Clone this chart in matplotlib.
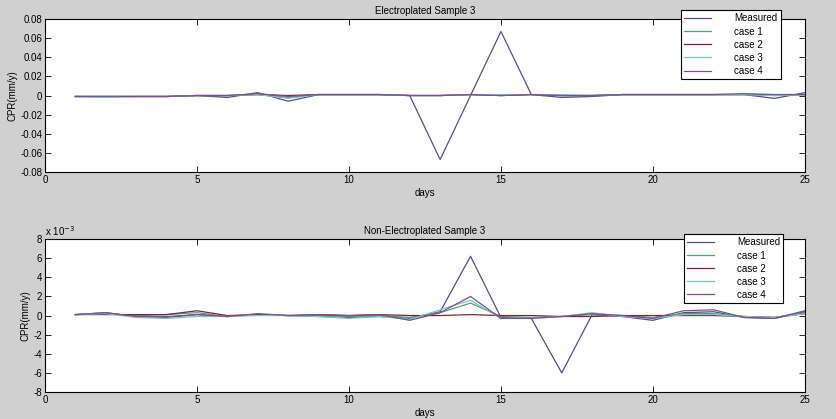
import numpy as np
import matplotlib
matplotlib.use('Agg')
import matplotlib.pyplot as plt

days = np.arange(1, 26)

# Electroplated Sample 3 (mm/y)
ep_measured = [-0.001, -0.001, -0.001, -0.001, 0.0, -0.002, 0.003, -0.006, 0.001, 0.001,
               0.001, 0.0, -0.067, 0.0, 0.067, 0.001, -0.002, -0.001, 0.001, 0.001,
               0.001, 0.001, 0.001, -0.003, 0.003]
ep_case1 = [-0.001, -0.001, -0.001, -0.001, 0.0, 0.0, 0.001, -0.002, 0.001, 0.001,
            0.001, 0.0, 0.0, 0.001, 0.0, 0.001, 0.0, 0.0, 0.001, 0.001,
            0.001, 0.001, 0.001, 0.0, 0.001]
ep_case2 = [-0.001, -0.001, -0.001, -0.001, 0.0, 0.0, 0.001, 0.0, 0.001, 0.001,
            0.001, 0.0, 0.0, 0.001, 0.0, 0.001, 0.0, 0.0, 0.001, 0.001,
            0.001, 0.001, 0.001, 0.001, 0.001]
ep_case3 = [-0.001, -0.002, -0.001, -0.001, 0.0, 0.0, 0.001, -0.003, 0.001, 0.001,
            0.001, 0.0, 0.0, 0.001, 0.001, 0.001, 0.001, 0.0, 0.001, 0.001,
            0.001, 0.001, 0.001, 0.0, 0.001]
ep_case4 = [-0.001, -0.001, -0.001, -0.001, 0.0, 0.0, 0.002, -0.001, 0.001, 0.001,
            0.001, 0.0, 0.0, 0.001, 0.0, 0.001, 0.0, 0.0, 0.001, 0.001,
            0.001, 0.001, 0.002, 0.001, 0.001]

# Non-Electroplated Sample 3 (x 1e-3 mm/y)
nep_measured = [0.1, 0.3, -0.1, -0.2, 0.1, -0.1, 0.1, 0.0, -0.1, -0.2,
                -0.1, -0.3, 0.4, 6.2, -0.2, -0.3, -6.0, 0.1, -0.1, -0.5,
                0.3, 0.4, -0.2, -0.3, 0.4]
nep_case1 = [0.1, 0.2, 0.0, 0.1, 0.3, -0.1, 0.1, 0.0, 0.0, -0.1,
             0.0, -0.2, 0.3, 1.3, -0.1, -0.2, -0.1, 0.1, 0.0, -0.2,
             0.2, 0.2, -0.1, -0.2, 0.3]
nep_case2 = [0.1, 0.1, 0.1, 0.1, 0.5, 0.0, 0.1, 0.0, 0.1, 0.0,
             0.1, 0.0, 0.0, 0.1, 0.0, 0.0, -0.1, -0.1, 0.0, 0.0,
             0.0, 0.0, -0.1, -0.2, 0.2]
nep_case3 = [0.1, 0.2, -0.2, -0.3, -0.1, -0.1, 0.0, 0.0, -0.1, -0.3,
             -0.1, -0.4, 0.6, 1.6, -0.3, -0.3, -0.1, 0.3, -0.1, -0.3,
             0.1, 0.1, -0.1, -0.2, 0.2]
nep_case4 = [0.1, 0.3, -0.1, -0.1, 0.1, -0.1, 0.2, 0.0, 0.1, 0.0,
             0.1, -0.5, 0.3, 2.0, -0.3, -0.3, -0.1, 0.2, 0.0, -0.3,
             0.5, 0.6, -0.2, -0.3, 0.5]

labels = ['Measured', 'case 1', 'case 2', 'case 3', 'case 4']
colors = ['#50508a', '#5a9e72', '#7a2535', '#78c8c8', '#7e5090']

plt.rcParams['font.family'] = ['Liberation Sans', 'DejaVu Sans']
plt.rcParams['font.size'] = 7

fig = plt.figure(figsize=(8.36, 4.19), dpi=100, facecolor='#d0d0d0')

def panel(pos, series, title, ylim, yticks, ytl, legpos):
    ax = fig.add_axes(pos)
    for s, c, l in zip(series, colors, labels):
        ax.plot(days, s, color=c, linewidth=0.9, label=l)
    ax.set_xlim(0, 25)
    ax.set_ylim(*ylim)
    ax.set_xticks([0, 5, 10, 15, 20, 25])
    ax.set_yticks(yticks)
    ax.set_yticklabels(ytl)
    ax.tick_params(direction='in', top=True, right=True, length=4, width=0.6, pad=2)
    for sp in ax.spines.values():
        sp.set_linewidth(0.8)
    ax.set_title(title, fontsize=7, pad=4)
    ax.set_xlabel('days', fontsize=7, labelpad=2)
    ax.set_ylabel('CPR(mm/y)', fontsize=7, labelpad=2)
    leg = ax.legend(loc='upper left', bbox_to_anchor=legpos, bbox_transform=fig.transFigure,
                    frameon=True, fancybox=False, framealpha=1, edgecolor='black',
                    fontsize=7, handlelength=2.7, handletextpad=2.4,
                    labelspacing=0.32, borderpad=0.35, borderaxespad=0)
    leg.get_frame().set_linewidth(0.8)
    return ax

ax1 = panel([0.0538, 0.5895, 0.909, 0.365],
            [ep_measured, ep_case1, ep_case2, ep_case3, ep_case4],
            'Electroplated Sample 3', (-0.08, 0.08),
            np.arange(-0.08, 0.081, 0.02),
            ['-0.08', '-0.06', '-0.04', '-0.02', '0', '0.02', '0.04', '0.06', '0.08'],
            (0.8146, 0.976))

ax2 = panel([0.0538, 0.0644, 0.909, 0.365],
            [nep_measured, nep_case1, nep_case2, nep_case3, nep_case4],
            'Non-Electroplated Sample 3', (-8, 8),
            np.arange(-8, 9, 2),
            ['-8', '-6', '-4', '-2', '0', '2', '4', '6', '8'],
            (0.818, 0.4415))
ax2.text(0.0, 1.01, r'x 10$^{-3}$', transform=ax2.transAxes, fontsize=7, ha='left', va='bottom')

fig.savefig('out.png', dpi=100, facecolor=fig.get_facecolor())
